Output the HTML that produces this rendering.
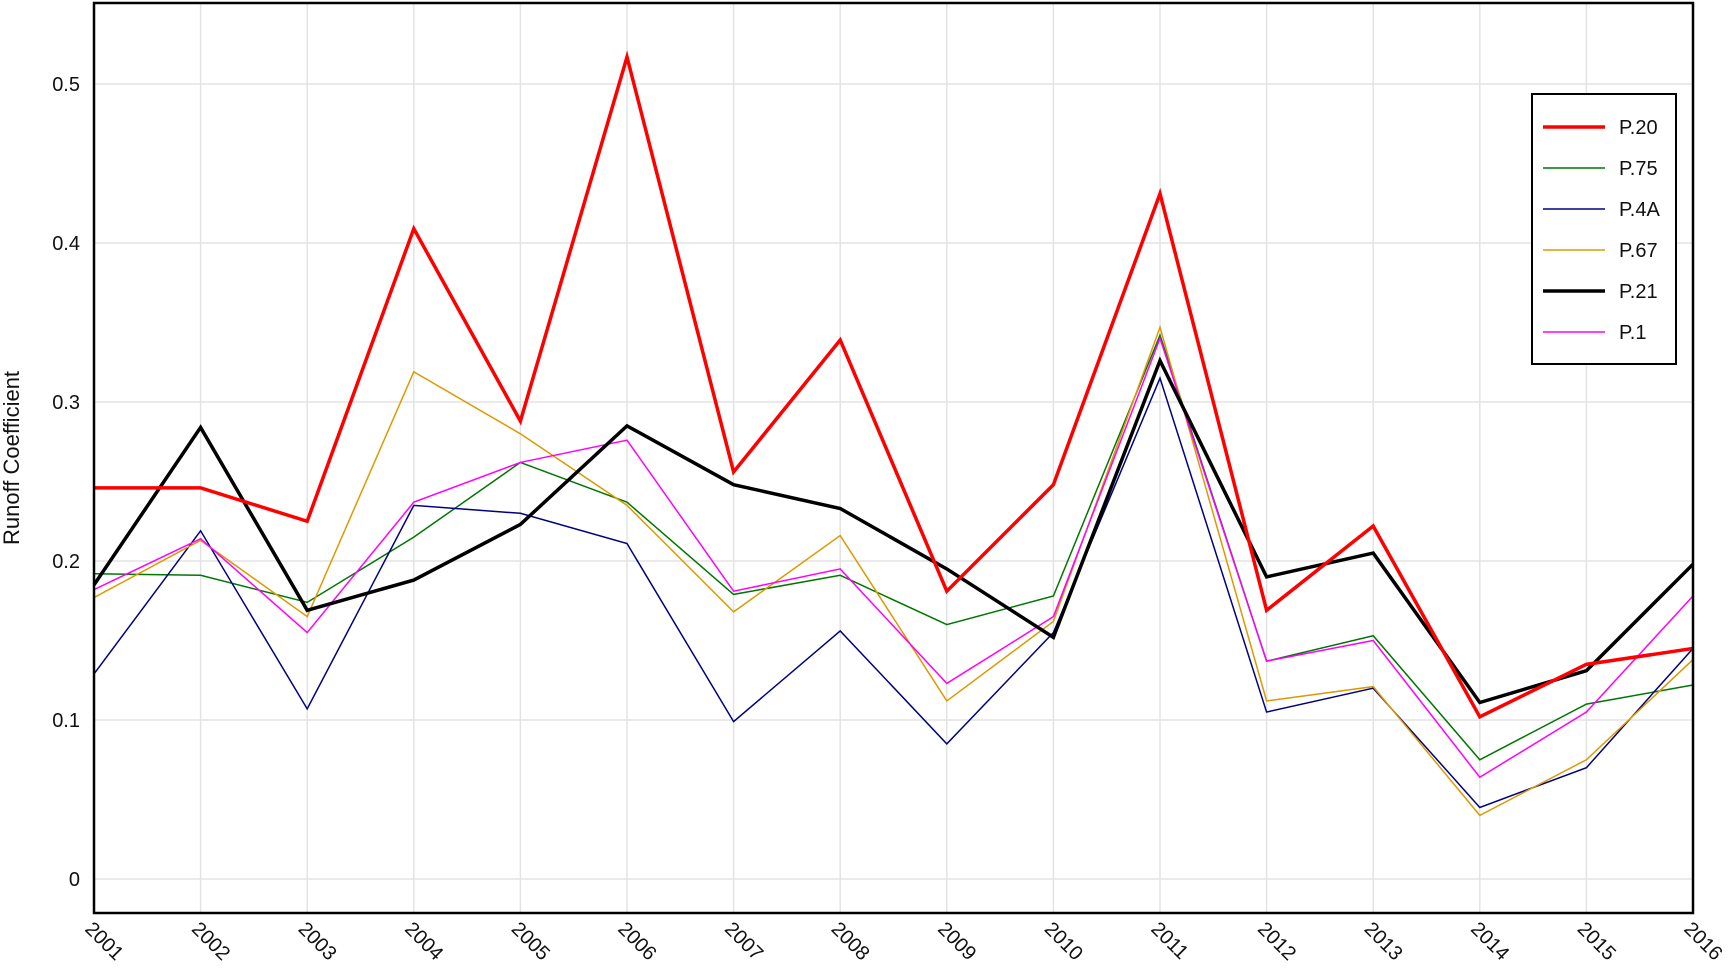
<!DOCTYPE html>
<html><head><meta charset="utf-8"><style>
html,body{margin:0;padding:0;background:#fff}
svg{display:block;font-family:"Liberation Sans",Arial,sans-serif}
</style></head><body>
<svg id="chart" width="1728" height="968"></svg>
<script>
const years=[2001,2002,2003,2004,2005,2006,2007,2008,2009,2010,2011,2012,2013,2014,2015,2016];
const yTicks=[0,0.1,0.2,0.3,0.4,0.5];
const seriesNames=["P.20","P.75","P.4A","P.67","P.21","P.1"];
const p20=[.246,.246,.225,.409,.288,.517,.256,.339,.181,.248,.431,.169,.222,.102,.135,.145];
const p75=[.192,.191,.174,.215,.262,.237,.179,.191,.160,.178,.342,.137,.153,.075,.110,.122];
const p4a=[.129,.219,.107,.235,.230,.211,.099,.156,.085,.155,.315,.105,.120,.045,.070,.145];
const p67=[.177,.213,.165,.319,.280,.235,.168,.216,.112,.162,.347,.112,.121,.040,.075,.138];
const p21=[.185,.284,.169,.188,.223,.285,.248,.233,.195,.152,.326,.190,.205,.111,.131,.198];
const p1=[.182,.214,.155,.237,.262,.276,.181,.195,.123,.165,.340,.137,.150,.064,.105,.178];

const NS="http://www.w3.org/2000/svg";
const svg=document.getElementById('chart');
const L=94,R=1693,T=3,B=913;
const x=i=>L+(R-L)*i/(years.length-1);
const y=v=>879-v*1590;
function mk(tag,attrs,parent){const e=document.createElementNS(NS,tag);for(const k in attrs)e.setAttribute(k,attrs[k]);(parent||svg).appendChild(e);return e;}

const grid=mk('g',{});


years.forEach((yr,i)=>{mk('line',{x1:x(i),x2:x(i),y1:T,y2:B,stroke:'#e3e3e3','stroke-width':1.5},grid);});
yTicks.forEach(v=>{mk('line',{x1:L,x2:R,y1:y(v),y2:y(v),stroke:'#e3e3e3','stroke-width':1.5},grid);});

yTicks.forEach(v=>{const t=mk('text',{x:80,y:y(v)+7,'text-anchor':'end','font-size':20,fill:'#111'});t.textContent=v===0?'0':String(v);

});
years.forEach((yr,i)=>{const t=mk('text',{x:x(i)-10,y:930,'font-size':20,fill:'#111',transform:`rotate(45 ${x(i)-10} 930)`});t.textContent=yr;

});
const yt=mk('text',{x:19,y:458,'text-anchor':'middle','font-size':22,fill:'#111',transform:'rotate(-90 19 458)'});yt.textContent='Runoff Coefficient';



const data=[p20,p75,p4a,p67,p21,p1];
const colors=['#ff0000','#007700','#000080','#dd9900','#000000','#ff00ff'];
const widths=[3.5,1.5,1.5,1.5,3.5,1.5];
const order=[1,2,3,5,4,0];
order.forEach(s=>{const pts=data[s].map((v,i)=>x(i)+','+y(v)).join(' ');
const pl=mk('polyline',{points:pts,fill:'none',stroke:colors[s],'stroke-width':widths[s],'stroke-linejoin':'miter'});

});

const fr=mk('rect',{x:L,y:T,width:R-L,height:B-T,fill:'none',stroke:'#000','stroke-width':2.5});



const lg=mk('g',{});


mk('rect',{x:1532,y:94,width:144,height:270,fill:'#fff',stroke:'#000','stroke-width':2},lg);
seriesNames.forEach((n,s)=>{const ly=127+s*41;
mk('line',{x1:1543,x2:1605,y1:ly,y2:ly,stroke:colors[s],'stroke-width':widths[s]},lg);
const t=mk('text',{x:1619,y:ly+7,'font-size':20,fill:'#111'},lg);t.textContent=n;

});
</script>
</body></html>
